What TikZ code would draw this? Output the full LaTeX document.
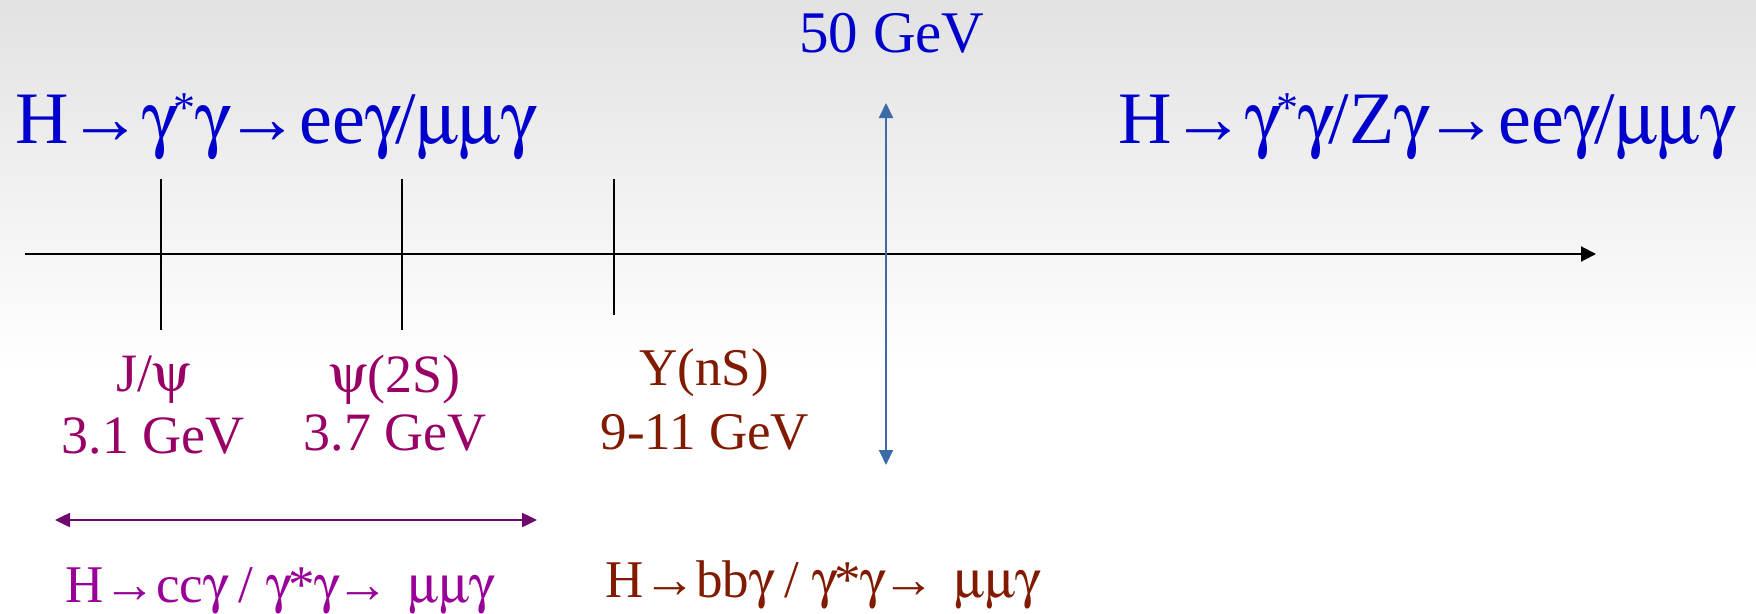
\documentclass[tikz,border=0pt]{standalone}
\usepackage{fontspec}
\setmainfont{Liberation Serif}
\usetikzlibrary{arrows.meta}
\DeclareFontFamily{U}{psy}{}
\DeclareFontShape{U}{psy}{m}{n}{<->psyr}{}
\newcommand{\sy}[1]{{\usefont{U}{psy}{m}{n}#1}}
\newcommand{\gm}{\sy{g}}
\newcommand{\mU}{\sy{m}}
\newcommand{\ps}{\sy{y}}
\newcommand{\ra}{→}
\definecolor{tblue}{RGB}{0,0,204}
\definecolor{cmag}{RGB}{153,0,102}
\definecolor{cpur}{RGB}{153,0,153}
\definecolor{cred}{RGB}{128,26,0}
\definecolor{abl}{RGB}{58,108,168}
\definecolor{apur}{RGB}{110,10,110}
\definecolor{bgtop}{RGB}{226,226,226}
\newcommand{\sstar}{\raisebox{0.28em}{\fontsize{44}{44}\selectfont *}}
\tikzset{
  lbl/.style={inner sep=0pt, anchor=base},
  title/.style={inner sep=0pt, anchor=base west, text=tblue, font=\fontsize{74}{80}\selectfont},
  tick/.style={line width=1.5pt, black},
}
\begin{document}
\begin{tikzpicture}[x=1pt,y=-1pt]
\useasboundingbox (0,0) rectangle (1756,613);
\shade[top color=bgtop, bottom color=white] (0,0) rectangle (1756,370);

% titles
\node[title] (t1) at (15,143) {H\ra\gm\sstar\gm\ra ee\gm/\mU\mU\gm};
\node[title] (t2) at (1118,143) {H\ra\gm\sstar\gm/Z\gm\ra ee\gm/\mU\mU\gm};
\node[lbl, text=tblue, font=\fontsize{59}{66}\selectfont] (fifty) at (892,52) {50 GeV};

% axis
\coordinate (a0) at (25,254);
\coordinate (a1) at (1596,254);
\draw[line width=2pt, -{Triangle[length=15pt,width=15pt]}] (a0) -- (a1);

% ticks
\coordinate (k1a) at (161,179); \coordinate (k1b) at (161,330);
\coordinate (k2a) at (402,179); \coordinate (k2b) at (402,330);
\coordinate (k3a) at (614,179); \coordinate (k3b) at (614,315);
\draw[tick] (k1a) -- (k1b);
\draw[tick] (k2a) -- (k2b);
\draw[tick] (k3a) -- (k3b);

% 50 GeV arrow
\coordinate (b0) at (886,103);
\coordinate (b1) at (886,465);
\draw[abl, line width=2pt, {Triangle[length=15pt,width=14pt]}-{Triangle[length=15pt,width=14pt]}] (b0) -- (b1);

% resonance labels
\node[lbl, text=cmag, font=\fontsize{54}{60}\selectfont] (jpsi) at (153,391) {J/\ps};
\node[lbl, text=cmag, font=\fontsize{54}{60}\selectfont] (jpsim) at (153,453) {3.1 GeV};
\node[lbl, text=cmag, font=\fontsize{54}{60}\selectfont] (psi2) at (395,392) {\ps(2S)};
\node[lbl, text=cmag, font=\fontsize{54}{60}\selectfont] (psi2m) at (395,450) {3.7 GeV};
\node[lbl, text=cred, font=\fontsize{53}{60}\selectfont] (ups) at (704,385) {Υ(nS)};
\node[lbl, text=cred, font=\fontsize{53}{60}\selectfont] (upsm) at (705,449) {9-11 GeV};

% charm range arrow
\coordinate (c0) at (55,520);
\coordinate (c1) at (537,520);
\draw[apur, line width=2.5pt, {Triangle[length=15pt,width=14pt]}-{Triangle[length=15pt,width=14pt]}] (c0) -- (c1);

% bottom texts
\node[inner sep=0pt, anchor=base west, text=cpur, font=\fontsize{53}{60}\selectfont] (cc) at (65,602) {H\ra cc\gm\ /\ \gm*\gm\ra\ \hspace{6pt}\mU\mU\gm};
\node[inner sep=0pt, anchor=base west, text=cred, font=\fontsize{53}{60}\selectfont] (bb) at (605,597) {H\ra bb\gm\ /\ \gm*\gm\ra\ \hspace{6pt}\mU\mU\gm};
\end{tikzpicture}
\end{document}
